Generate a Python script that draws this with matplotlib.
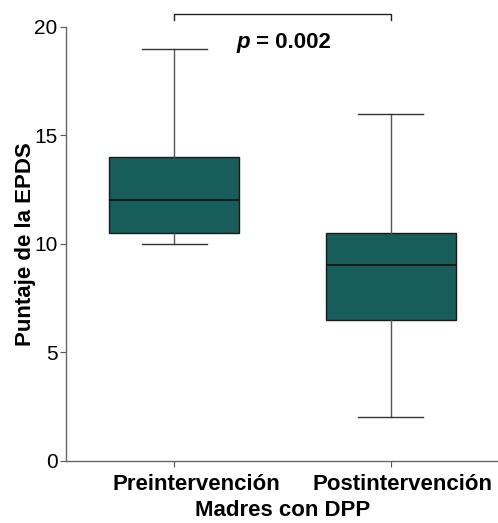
import matplotlib
matplotlib.use("Agg")
import matplotlib.pyplot as plt
from matplotlib.transforms import ScaledTranslation

plt.rcParams['font.family'] = ['Liberation Sans', 'DejaVu Sans']

groups = ["Preintervención", "Postintervención"]
whisker_low = [10, 2]
q1 = [10.5, 6.5]
median = [12, 9]
q3 = [14, 10.5]
whisker_high = [19, 16]
p_text = "= 0.002"

stats = []
for i in range(len(groups)):
    stats.append({"label": groups[i], "whislo": whisker_low[i], "q1": q1[i],
                  "med": median[i], "q3": q3[i], "whishi": whisker_high[i],
                  "fliers": []})

fig = plt.figure(figsize=(4.98, 5.23), dpi=100)
ax = fig.add_axes([0.1325, 0.1195, 0.87, 0.829])

ax.bxp(stats, positions=[1, 2], widths=0.6, patch_artist=True, showfliers=False,
       boxprops=dict(facecolor="#175d59", edgecolor="#1a1a1a", linewidth=1.0),
       medianprops=dict(color="#111111", linewidth=1.2),
       whiskerprops=dict(color="#555555", linewidth=1.0),
       capprops=dict(color="#333333", linewidth=1.0),
       capwidths=0.3)

ax.set_xlim(0.5, 2.5)
ax.set_ylim(0, 20)
ax.set_yticks([0, 5, 10, 15, 20])
ax.tick_params(axis="y", labelsize=15, length=4, color="#555555", pad=2)
ax.tick_params(axis="x", labelsize=16, length=4, color="#555555", pad=6)
# labels in the reference sit a little right of their ticks
shifts = [22, 12]
for lab, dx in zip(ax.get_xticklabels(), shifts):
    lab.set_fontweight("bold")
    lab.set_transform(lab.get_transform() + ScaledTranslation(dx / 100, 0, fig.dpi_scale_trans))
for s in ["top", "right"]:
    ax.spines[s].set_visible(False)
for s in ["left", "bottom"]:
    ax.spines[s].set_color("#666666")
    ax.spines[s].set_linewidth(1.0)

ax.set_ylabel("Puntaje de la EPDS", fontsize=16, fontweight="bold")
ax.yaxis.set_label_coords(-0.069, 0.5)
fig.text(0.568, 7 / 523, "Madres con DPP", fontsize=16, fontweight="bold",
         ha="center", va="baseline")

# significance bracket
ax.plot([1, 1, 2, 2], [20.33, 20.6, 20.6, 20.33], color="#222222", lw=1.0, clip_on=False)
ax.text(1.35, 19.3, "p", fontsize=16, fontweight="bold",
        fontstyle="italic", ha="right", va="center")
ax.text(1.35, 19.3, " " + p_text, fontsize=16, fontweight="bold", ha="left", va="center")

fig.savefig("out.png", dpi=100)
